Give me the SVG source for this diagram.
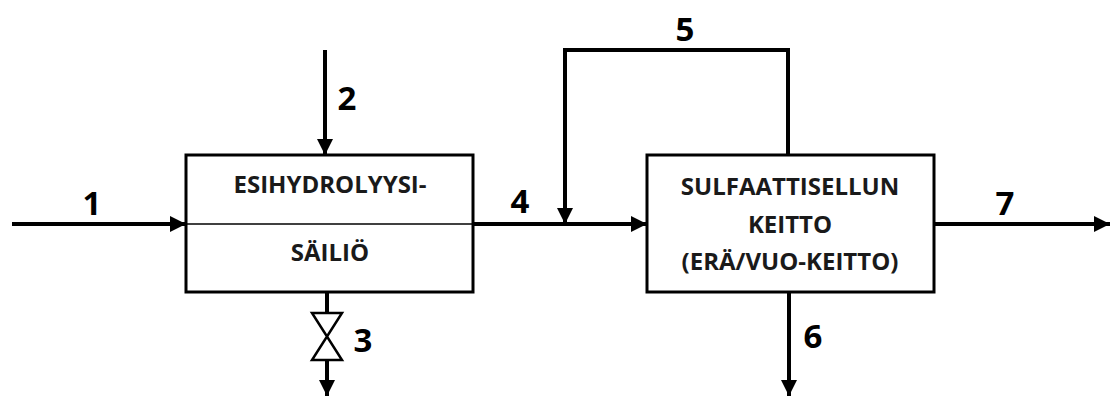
<svg xmlns="http://www.w3.org/2000/svg" width="1111" height="396" viewBox="0 0 1111 396">
<style>
.box{fill:#fff;stroke:#000;stroke-width:3}
.ln{fill:none;stroke:#000;stroke-width:4}
.t{font-family:"Open Sans","Liberation Sans",sans-serif;font-weight:bold;font-size:24px;fill:#1a1a1a;text-anchor:middle}
.n{font-family:"Open Sans","Liberation Sans",sans-serif;font-weight:bold;font-size:33px;fill:#000;text-anchor:middle}
</style>
<defs>
<marker id="ah" viewBox="0 0 10 10" refX="10" refY="5" markerWidth="4" markerHeight="4" markerUnits="strokeWidth" orient="auto">
<path d="M0,0 L10,5 L0,10 Z" fill="#000"/>
</marker>
</defs>
<g id="connectors">
<path class="ln" d="M12,224 H186" marker-end="url(#ah)"/>
<path class="ln" d="M325,50 V155" marker-end="url(#ah)"/>
<path class="ln" d="M473,224 H647" marker-end="url(#ah)"/>
<path class="ln" d="M788,155 V50 H565 V224" marker-end="url(#ah)"/>
<path class="ln" d="M934,224 H1110" marker-end="url(#ah)"/>
<path class="ln" d="M789,292 V396" marker-end="url(#ah)"/>
<path class="ln" d="M327,292 V313"/>
<path class="ln" d="M327,360 V396" marker-end="url(#ah)"/>
<path d="M312,313 H342 L312,360 H342 Z" fill="#fff" stroke="#000" stroke-width="2.5" stroke-linejoin="miter"/>
</g>
<g id="node-esihydrolyysi">
<rect class="box" x="186" y="155" width="287" height="137"/>
<line x1="186" y1="224" x2="473" y2="224" stroke="#000" stroke-width="1.5"/>
<text class="t" x="330" y="193">ESIHYDROLYYSI-</text>
<text class="t" x="330" y="261">SÄILIÖ</text>
</g>
<g id="node-sulfaatti">
<rect class="box" x="647" y="155" width="287" height="137"/>
<text class="t" x="790" y="195">SULFAATTISELLUN</text>
<text class="t" x="790" y="233">KEITTO</text>
<text class="t" x="790" y="270">(ERÄ/VUO-KEITTO)</text>
</g>
<g id="labels">
<text class="n" x="92" y="215">1</text>
<text class="n" x="347" y="110">2</text>
<text class="n" x="363" y="352">3</text>
<text class="n" x="520" y="213">4</text>
<text class="n" x="685" y="41">5</text>
<text class="n" x="813" y="348">6</text>
<text class="n" x="1005" y="215">7</text>
</g>
</svg>
